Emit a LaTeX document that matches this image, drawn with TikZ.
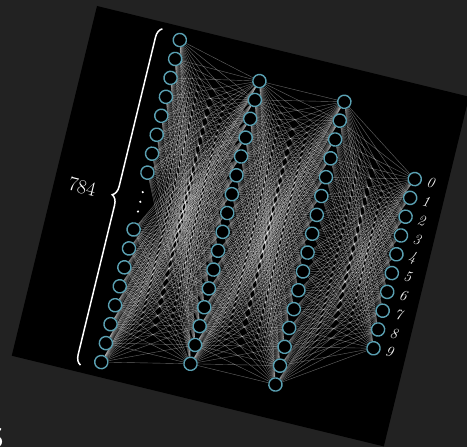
\documentclass[tikz,border=0pt]{standalone}
\usetikzlibrary{decorations.pathreplacing}
\pgfdeclarelayer{bg}
\pgfdeclarelayer{edges}
\pgfsetlayers{bg,edges,main}
\definecolor{pagebg}{HTML}{222222}
\definecolor{neuroncol}{RGB}{90,160,178}
\begin{document}
\begin{tikzpicture}[x=1pt,y=1pt,
  neuron/.style={circle, draw=neuroncol, line width=1.4pt, fill=black, minimum size=13.2pt, inner sep=0pt},
  conn/.style={white, opacity=0.4, line width=0.4pt},
  outlab/.style={text=gray!10, inner sep=0pt, font=\fontsize{15}{15}\selectfont\itshape},
  bracestyle/.style={white, line width=1.5pt, decorate, decoration={brace, amplitude=9.5pt}}
]
\useasboundingbox (0,0) rectangle (467,447);
\begin{pgfonlayer}{bg}
  \fill[pagebg] (0,0) rectangle (467,447);
\end{pgfonlayer}
\node[text=white, inner sep=0pt, font=\sffamily\fontsize{28}{28}\selectfont] (frag) at (-3.5,9) {S};
\begin{scope}[shift={(97,441)}, rotate=-13.7, transform shape]
  \begin{pgfonlayer}{bg}
    \fill[black] (0,0) rectangle (383,-360);
  \end{pgfonlayer}
  % input layer
  \foreach \i in {0,...,7} {
    \node[neuron] (in\i) at (88.5, {-(179.2+19.5*(\i-8.5))}) {};
  }
  \foreach \i in {10,...,17} {
    \node[neuron] (in\i) at (88.5, {-(179.2+19.5*(\i-8.5))}) {};
  }
  % hidden layers
  \foreach \j in {0,...,15} {
    \node[neuron] (ha\j) at (175.6, {-(180+19.4*(\j-7.5))}) {};
    \node[neuron] (hb\j) at (263, {-(180+19.4*(\j-7.5))}) {};
  }
  % output layer
  \foreach \k in {0,...,9} {
    \node[neuron] (out\k) at (349.7, {-(180+19.35*(\k-4.5))}) {};
    \node[outlab] (lab\k) at (366, {-(180+19.35*(\k-4.5))}) {\k};
  }
  % dots
  \fill[white] (88.5,-170) circle (1.2);
  \fill[white] (88.5,-180) circle (1.2);
  \fill[white] (88.5,-190) circle (1.2);
  % brace and label
  \coordinate (bb) at (69,-352.8);
  \coordinate (bt) at (69,-6.7);
  \draw[bracestyle] (bb) -- (bt);
  \node[text=white, inner sep=0pt, font=\fontsize{20}{20}\selectfont] (n784) at (28.5,-179.2) {784};
  % connections
  \begin{pgfonlayer}{edges}
    \foreach \i in {0,...,7,10,11,12,13,14,15,16,17} {
      \foreach \j in {0,...,15} {
        \draw[conn] (in\i) -- (ha\j);
      }
    }
    \foreach \i in {0,...,15} {
      \foreach \j in {0,...,15} {
        \draw[conn] (ha\i) -- (hb\j);
      }
    }
    \foreach \i in {0,...,15} {
      \foreach \k in {0,...,9} {
        \draw[conn] (hb\i) -- (out\k);
      }
    }
  \end{pgfonlayer}
\end{scope}
\end{tikzpicture}
\end{document}
